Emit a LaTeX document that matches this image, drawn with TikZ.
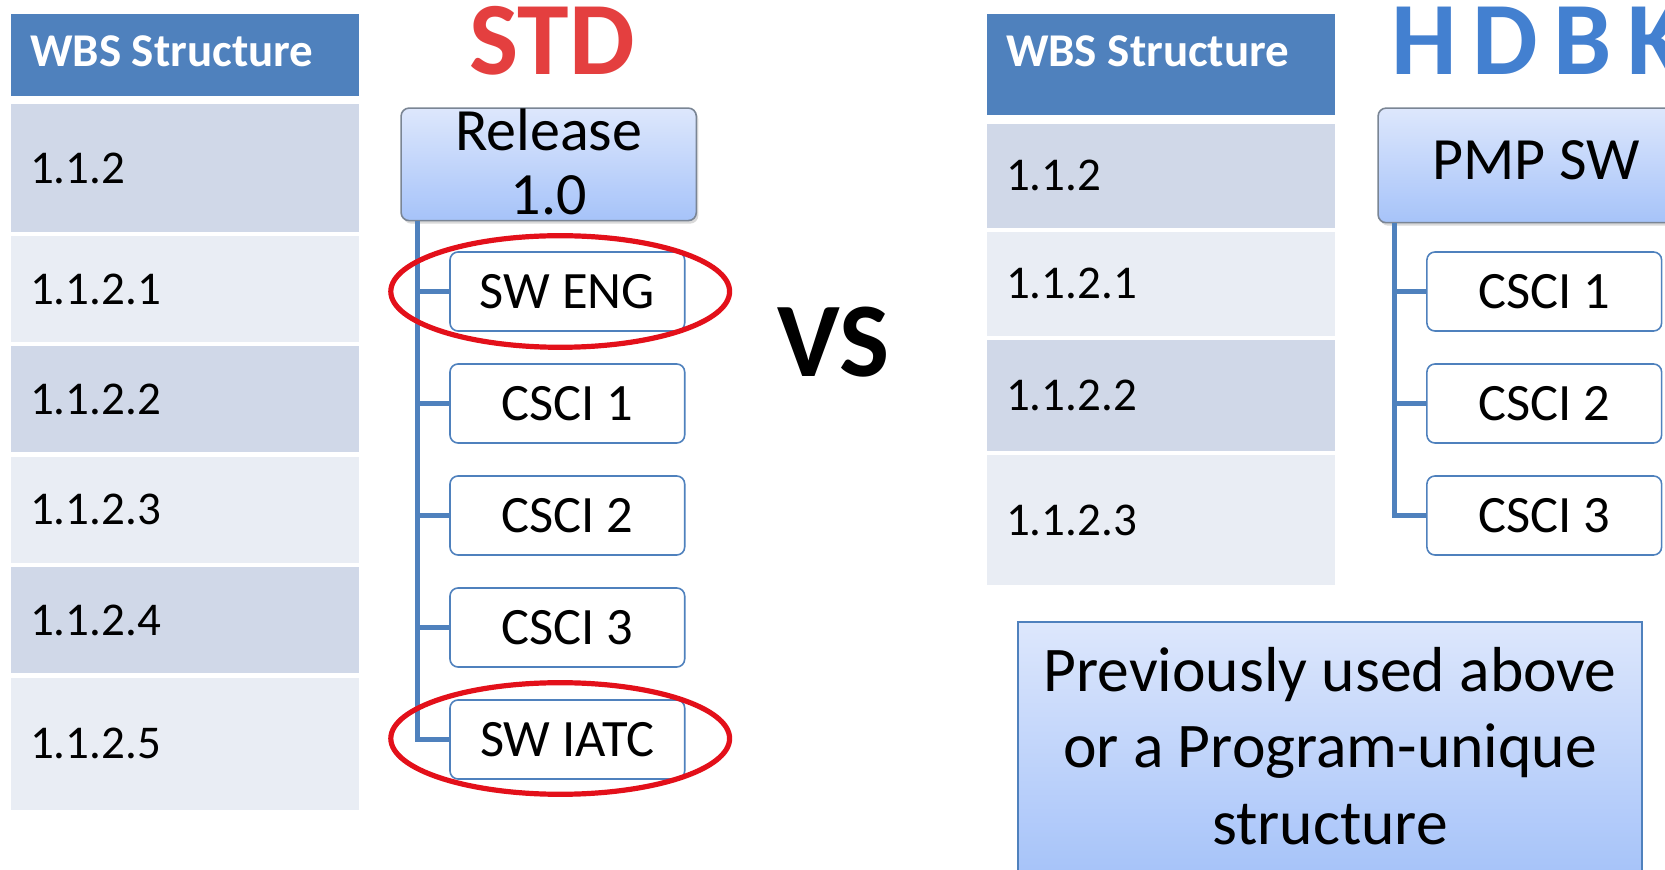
\documentclass[tikz,border=0pt]{standalone}
\usepackage{fontspec}
\setmainfont{Carlito}
\usetikzlibrary{shadows,shapes.geometric}
\definecolor{hdrblue}{HTML}{4F81BD}
\definecolor{rowdark}{HTML}{D0D8E8}
\definecolor{rowlight}{HTML}{E9EDF4}
\definecolor{boxtop}{HTML}{DDE7FC}
\definecolor{boxbot}{HTML}{A6C3F9}
\definecolor{ringred}{HTML}{E3101A}
\definecolor{stdred}{HTML}{E43F3F}
\definecolor{hdbkblue}{HTML}{4380D0}
\definecolor{framegray}{HTML}{7A8594}

\tikzset{
  hdr/.style={fill=hdrblue, minimum width=174.15pt, anchor=north west, inner sep=0pt},
  hdrtext/.style={anchor=west, text=white, inner sep=0pt,
    font=\bfseries\fontsize{23.5}{28}\selectfont},
  cell/.style={anchor=north west, minimum width=174.15pt, text width=155pt,
    inner xsep=9.55pt, inner ysep=0pt, align=left,
    font=\fontsize{23.5}{28}\selectfont},
  dark/.style={fill=rowdark},
  light/.style={fill=rowlight},
  item/.style={draw=hdrblue, line width=0.8pt, fill=white, rounded corners=4pt,
    minimum width=117.35pt, minimum height=39.5pt, inner sep=0pt, anchor=west,
    font=\fontsize{26.25}{30}\selectfont},
  topbox/.style={draw=framegray, line width=0.8pt, rounded corners=4pt,
    top color=boxtop, bottom color=boxbot, inner sep=0pt, align=center,
    anchor=north west, font=\fontsize{30}{32}\selectfont,
    drop shadow={shadow xshift=1pt, shadow yshift=-1.5pt, opacity=0.3}},
  notebox/.style={draw=hdrblue, line width=1pt, top color=boxtop,
    bottom color=boxbot, inner sep=0pt, align=center, anchor=north west,
    font=\fontsize{31.8}{38.25}\selectfont},
  tree/.style={draw=hdrblue, line width=2.6pt},
  ring/.style={draw=ringred, line width=2.6pt, ellipse, inner sep=0pt,
    minimum width=169.4pt, minimum height=55.8pt},
  bigword/.style={inner sep=0pt, font=\bfseries\fontsize{52}{60}\selectfont},
}

\begin{document}
\begin{tikzpicture}[x=0.5pt,y=-0.5pt]
\useasboundingbox (0,0) rectangle (1665,870);
\clip (0,0) rectangle (1665,870);

% ---------- left WBS table ----------
\node[hdr, minimum height=40.9pt] (lhdr) at (10.6,13.8) {};
\node[hdrtext] (lhdrtxt) at (29.7,51) {WBS Structure};
\node[cell,dark,  minimum height=63.7pt]  (l1) at (10.6,104.1) {1.1.2};
\node[cell,light, minimum height=53pt]    (l2) at (10.6,235.7) {1.1.2.1};
\node[cell,dark,  minimum height=53pt]    (l3) at (10.6,346.1) {1.1.2.2};
\node[cell,light, minimum height=53pt]    (l4) at (10.6,456.5) {1.1.2.3};
\node[cell,dark,  minimum height=53pt]    (l5) at (10.6,566.9) {1.1.2.4};
\node[cell,light, minimum height=65.95pt] (l6) at (10.6,677.3) {1.1.2.5};

% ---------- STD tree ----------
\node[bigword, text=stdred] (std) at (552,41) {STD};
\node[topbox, minimum width=147.6pt, minimum height=56.25pt, text depth=2.7pt] (rel)
  at (400.3,107.3) {Release\\1.0};
\node[item] (eng)  at (449.2,291.5) {SW ENG};
\node[item] (sc1)  at (449.2,403.5) {CSCI 1};
\node[item] (sc2)  at (449.2,515.5) {CSCI 2};
\node[item] (sc3)  at (449.2,627.5) {CSCI 3};
\node[item] (iatc) at (449.2,739.5) {SW IATC};
\coordinate (spineA) at (417.3,0);
\draw[tree] (spineA |- rel.south) |- (iatc.west);
\foreach \n in {eng,sc1,sc2,sc3}
  \draw[tree] (spineA |- \n.west) -- (\n.west);
\node[ring] (ringeng)  at (560.2,291.5) {};
\node[ring] (ringiatc) at (560.2,738.5) {};

% ---------- VS ----------
\node[bigword, font=\bfseries\fontsize{53}{60}\selectfont] (vs) at (833.6,342) {VS};

% ---------- right WBS table ----------
\node[hdr, minimum height=50.45pt] (rhdr) at (986.5,13.8) {};
\node[hdrtext] (rhdrtxt) at (1005.6,51) {WBS Structure};
\node[cell,dark,  minimum height=52pt]   (r1) at (986.5,123.2) {1.1.2};
\node[cell,light, minimum height=52pt]   (r2) at (986.5,231.5) {1.1.2.1};
\node[cell,dark,  minimum height=55.2pt] (r3) at (986.5,339.8) {1.1.2.2};
\node[cell,light, minimum height=65.3pt] (r4) at (986.5,454.5) {1.1.2.3};

% ---------- HDBK tree ----------
\node[bigword, anchor=west, text=hdbkblue,
  font=\bfseries\fontsize{52}{60}\selectfont\addfontfeature{LetterSpace=15}]
  (hdbk) at (1391,41) {HDBK};
\node[topbox, minimum width=158.2pt, minimum height=57.3pt, text depth=5.3pt] (pmp)
  at (1377.3,107.3) {PMP SW};
\node[item] (pc1) at (1426.1,291.5) {CSCI 1};
\node[item] (pc2) at (1426.1,403.5) {CSCI 2};
\node[item] (pc3) at (1426.1,515.5) {CSCI 3};
\coordinate (spineB) at (1394.3,0);
\draw[tree] (spineB |- pmp.south) |- (pc3.west);
\foreach \n in {pc1,pc2}
  \draw[tree] (spineB |- \n.west) -- (\n.west);

% ---------- note ----------
\node[notebox, minimum width=311.65pt, minimum height=126.4pt, text depth=3pt] (note)
  at (1017.3,621.2) {Previously used above\\or a Program-unique\\structure};
\end{tikzpicture}
\end{document}
